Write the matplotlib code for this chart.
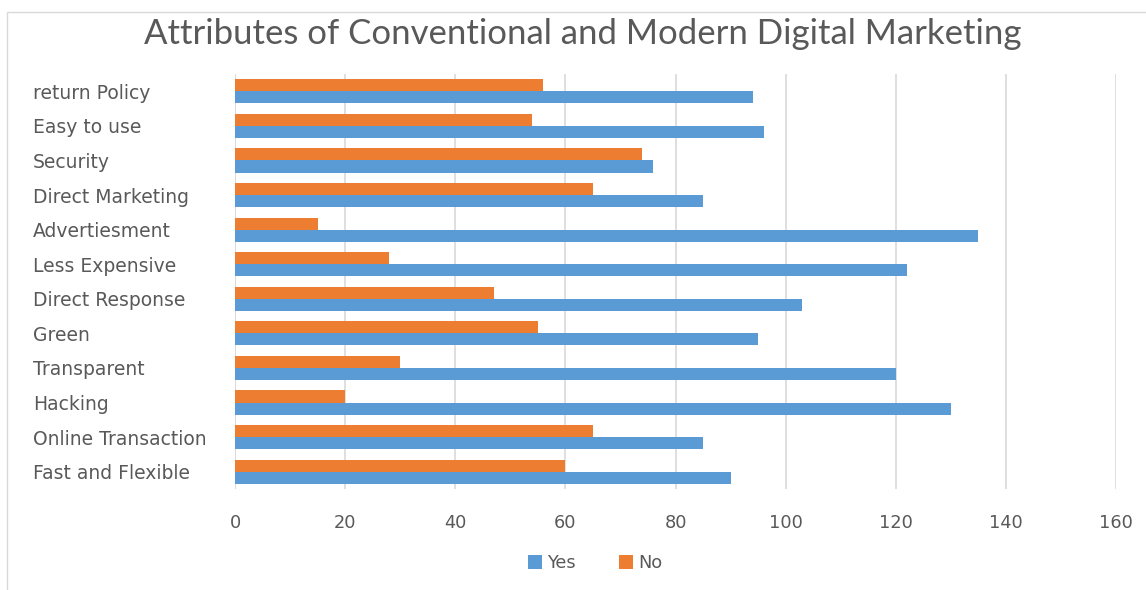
import matplotlib.pyplot as plt
import matplotlib.patches as mpatches
import numpy as np

categories = ["Fast and Flexible", "Online Transaction", "Hacking", "Transparent",
              "Green", "Direct Response", "Less Expensive", "Advertiesment",
              "Direct Marketing", "Security", "Easy to use", "return Policy"]
yes_vals = [90, 85, 130, 120, 95, 103, 122, 135, 85, 76, 96, 94]
no_vals = [60, 65, 20, 30, 55, 47, 28, 15, 65, 74, 54, 56]
x_ticks = [0, 20, 40, 60, 80, 100, 120, 140, 160]

BLUE = "#5b9bd5"
ORANGE = "#ed7d31"
GRAY = "#595959"

# the reference text is wide, DejaVu Sans fits it best
plt.rcParams['font.family'] = ['DejaVu Sans']

W, H = 1146, 590
fig = plt.figure(figsize=(W / 100, H / 100), dpi=100)
ax = fig.add_axes([235 / W, 1 - 489 / H, (1116 - 235) / W, (489 - 74) / H])

# light frame around the chart
fig.patches.append(mpatches.Rectangle((7 / W, -0.05), 1.1, 1 - 12 / H + 0.05,
                                      transform=fig.transFigure, fill=False,
                                      edgecolor="#d9d9d9", linewidth=1))

y = np.arange(len(categories))
h = 0.35
ax.barh(y - h / 2, yes_vals, height=h, color=BLUE, label="Yes", zorder=3)
ax.barh(y + h / 2, no_vals, height=h, color=ORANGE, label="No", zorder=3)

ax.set_xlim(0, 160)
ax.set_ylim(-0.5, len(categories) - 0.5)
ax.set_xticks(x_ticks)
ax.set_xticklabels([str(t) for t in x_ticks])
ax.set_yticks(y)
ax.set_yticklabels(categories, ha="left")
# label left edge at x=33 px -> pad of (235-33) px in points
ax.tick_params(axis="y", length=0, pad=(235 - 33) * 0.72, labelsize=13.5, labelcolor=GRAY)
ax.tick_params(axis="x", length=0, pad=18, labelsize=12.8, labelcolor=GRAY)
ax.grid(axis="x", color="#d9d9d9", linewidth=1.2, zorder=0)
for s in ax.spines.values():
    s.set_visible(False)
ax.axvline(0, color="#d9d9d9", linewidth=1.2, zorder=1)

fig.text(583 / W, 1 - 34 / H, "Attributes of Conventional and Modern Digital Marketing",
         ha="center", va="center", fontsize=25, color=GRAY,
         family=["Lato", "DejaVu Sans"])

leg = ax.legend(loc="center", bbox_to_anchor=(595 / W, 1 - 563 / H),
                bbox_transform=fig.transFigure, ncol=2, frameon=False,
                fontsize=12.8, handlelength=0.8, handleheight=0.8,
                handletextpad=0.3, columnspacing=2.4)
for t in leg.get_texts():
    t.set_color(GRAY)

plt.savefig("out.png", dpi=100)
plt.close()
